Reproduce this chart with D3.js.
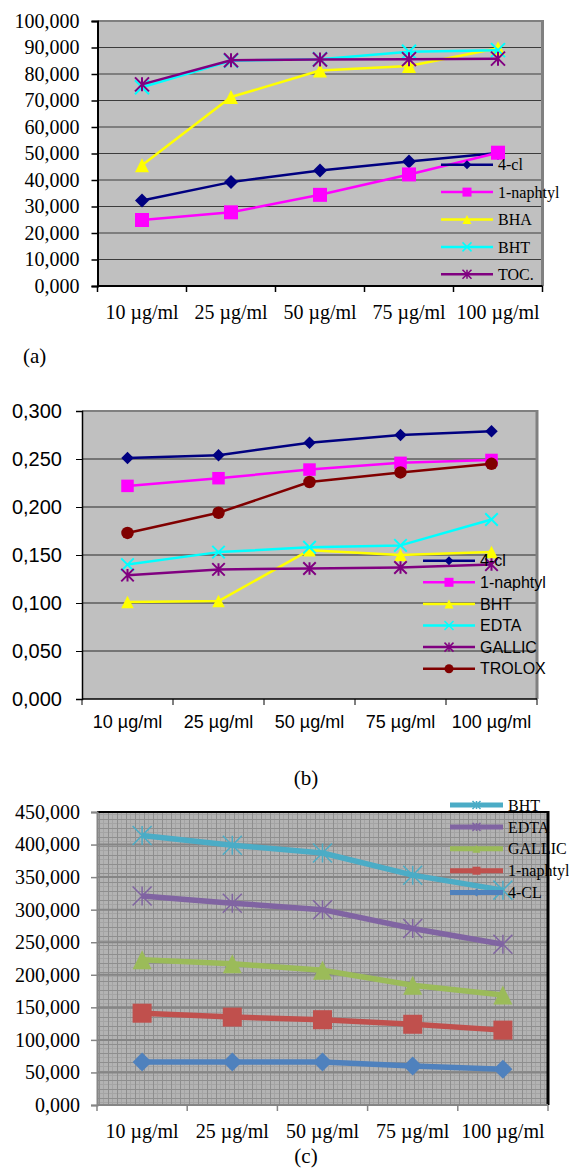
<!DOCTYPE html>
<meta charset="utf-8">
<head>
<title>Antioxidant activity</title>
<script src="https://cdn.jsdelivr.net/npm/d3@7"></script>
<style>
  body { margin: 0; background: #fff; }
</style>
</head>
<body>
<svg id="chart" width="569" height="1173"></svg>
<script>
// categories shared by the three panels
var categories = ["10 µg/ml", "25 µg/ml", "50 µg/ml", "75 µg/ml", "100 µg/ml"];

// panel (a)
var aTicks = [0, 10, 20, 30, 40, 50, 60, 70, 80, 90, 100];
var a4cl = [32.3, 39.2, 43.6, 47.0, 50.2];
var aNaphtyl = [24.9, 27.8, 34.4, 42.1, 50.3];
var aBHA = [45.6, 71.3, 81.3, 83.0, 89.7];
var aBHT = [75.0, 85.0, 85.6, 88.4, 89.0];
var aTOC = [76.1, 85.2, 85.5, 85.6, 85.8];

// panel (b)
var bTicks = [0, 0.05, 0.1, 0.15, 0.2, 0.25, 0.3];
var b4cl = [0.251, 0.254, 0.267, 0.275, 0.279];
var bNaphtyl = [0.222, 0.230, 0.239, 0.246, 0.249];
var bBHT = [0.101, 0.102, 0.155, 0.150, 0.153];
var bEDTA = [0.140, 0.153, 0.158, 0.160, 0.187];
var bGALLIC = [0.129, 0.135, 0.136, 0.137, 0.140];
var bTROLOX = [0.173, 0.194, 0.226, 0.236, 0.245];

// panel (c)
var cTicks = [0, 50, 100, 150, 200, 250, 300, 350, 400, 450];
var cBHT = [414, 399, 387, 353, 330];
var cEDTA = [321, 310, 300, 271, 247];
var cGALLIC = [223, 217, 207, 184, 169];
var cNaphtyl = [141, 135, 131, 124, 115];
var c4CL = [66, 66, 66, 60, 55];

var svg = d3.select("#chart");
var fmt = function (v) { return d3.format(".3f")(v).replace(".", ","); };

// texture of panel (c)
var defs = svg.append("defs");
var pat = defs.append("pattern")
  .attr("id", "grain")
  .attr("patternUnits", "userSpaceOnUse")
  .attr("width", 9).attr("height", 9);
pat.append("rect").attr("width", 9).attr("height", 9).attr("fill", "#b3b3b3");
pat.append("path").attr("d", "M0,4.5H9M4.5,0V9").attr("stroke", "#a4a4a4").attr("stroke-width", 1);
pat.append("path").attr("d", "M0,0.5H9M0.5,0V9").attr("stroke", "#8e8e8e").attr("stroke-width", 1);

function markerPath(type, s) {
  var r = s / 2;
  switch (type) {
    case "diamond": return "M0," + (-r) + "L" + r + ",0L0," + r + "L" + (-r) + ",0Z";
    case "square": return "M" + (-r) + "," + (-r) + "h" + s + "v" + s + "h" + (-s) + "Z";
    case "triangle": return "M0," + (-r) + "L" + r + "," + r + "L" + (-r) + "," + r + "Z";
    case "circle": return d3.symbol(d3.symbolCircle, Math.PI * r * r)();
    case "x": return "M" + (-r) + "," + (-r) + "L" + r + "," + r + "M" + (-r) + "," + r + "L" + r + "," + (-r);
    case "star": return "M" + (-r) + "," + (-r) + "L" + r + "," + r + "M" + (-r) + "," + r + "L" + r + "," + (-r) + "M0," + (-r) + "L0," + r;
  }
}
function isOpen(type) { return type == "x" || type == "star"; }

function drawMarker(sel, type, color, size, sw) {
  sel.attr("d", markerPath(type, size))
    .attr("fill", isOpen(type) ? "none" : color)
    .attr("stroke", isOpen(type) ? color : "none")
    .attr("stroke-width", sw);
}

function panel(cfg) {
  var g = svg.append("g");
  var x = d3.scaleBand().domain(categories).range([cfg.left, cfg.right]);
  var y = d3.scaleLinear().domain([0, d3.max(cfg.ticks)]).range([cfg.bottom, cfg.top]);
  var cx = function (c) { return x(c) + x.bandwidth() / 2; };

  // plot area
  g.append("rect")
    .attr("x", cfg.left).attr("y", cfg.top)
    .attr("width", cfg.right - cfg.left).attr("height", cfg.bottom - cfg.top)
    .attr("fill", cfg.bg);

  // gridlines
  g.selectAll("line.grid")
    .data(cfg.ticks.filter(function (t) { return t > 0 && t < d3.max(cfg.ticks); }))
    .enter().append("line")
    .attr("class", "grid")
    .attr("x1", cfg.left).attr("x2", cfg.right)
    .attr("y1", function (d) { return y(d); }).attr("y2", function (d) { return y(d); })
    .attr("stroke", cfg.grid).attr("stroke-width", cfg.gridW);

  // top / right frame
  g.append("line").attr("x1", cfg.left).attr("x2", cfg.right)
    .attr("y1", cfg.top).attr("y2", cfg.top)
    .attr("stroke", cfg.frame).attr("stroke-width", cfg.frameW);
  g.append("line").attr("x1", cfg.right).attr("x2", cfg.right)
    .attr("y1", cfg.top - cfg.frameW / 2).attr("y2", cfg.bottom)
    .attr("stroke", cfg.frame).attr("stroke-width", cfg.frameW + 1);

  // y axis
  var ya = g.append("g")
    .attr("transform", "translate(" + cfg.left + ",0)")
    .call(d3.axisLeft(y).tickValues(cfg.ticks).tickFormat(fmt).tickSize(6).tickPadding(cfg.yPad));
  ya.select(".domain").attr("stroke", cfg.axis).attr("stroke-width", cfg.axisW);
  ya.selectAll(".tick line").attr("stroke", cfg.axis).attr("stroke-width", cfg.axisW - 0.5);
  ya.selectAll(".tick text")
    .attr("font-family", cfg.font).attr("font-size", cfg.yFont).attr("fill", "#000");

  // x axis with ticks on category boundaries
  g.append("line").attr("x1", cfg.left).attr("x2", cfg.right)
    .attr("y1", cfg.bottom).attr("y2", cfg.bottom)
    .attr("stroke", cfg.axis).attr("stroke-width", cfg.axisW);
  var bounds = categories.map(function (c) { return x(c); }).concat([x.range()[1]]);
  g.selectAll("line.xtick").data(bounds).enter().append("line")
    .attr("class", "xtick")
    .attr("x1", function (d) { return d; }).attr("x2", function (d) { return d; })
    .attr("y1", cfg.bottom).attr("y2", cfg.bottom + 6)
    .attr("stroke", cfg.axis).attr("stroke-width", cfg.axisW - 0.5);
  g.selectAll("text.xlab").data(categories).enter().append("text")
    .attr("class", "xlab")
    .attr("x", cx).attr("y", cfg.xBase)
    .attr("text-anchor", "middle")
    .attr("font-family", cfg.font).attr("font-size", cfg.xFont)
    .text(function (d) { return d; });

  // series
  var line = d3.line()
    .x(function (d, i) { return cx(categories[i]); })
    .y(function (d) { return y(d); });
  cfg.series.forEach(function (s) {
    g.append("path").datum(s.values)
      .attr("d", line).attr("fill", "none")
      .attr("stroke", s.color).attr("stroke-width", cfg.lineW)
      .attr("stroke-linejoin", "round");
    g.selectAll(null).data(s.values).enter().append("path")
      .attr("transform", function (d, i) { return "translate(" + cx(categories[i]) + "," + y(d) + ")"; })
      .call(drawMarker, s.marker, s.color, cfg.mSize, cfg.mStroke);
  });

  // legend
  var lg = g.append("g");
  cfg.legendOrder.forEach(function (k, i) {
    var s = cfg.series[k];
    var ly = cfg.legY + i * cfg.legStep;
    lg.append("line").attr("x1", cfg.legX1).attr("x2", cfg.legX2)
      .attr("y1", ly).attr("y2", ly)
      .attr("stroke", s.color).attr("stroke-width", cfg.legLineW);
    lg.append("path")
      .attr("transform", "translate(" + (cfg.legX1 + cfg.legX2) / 2 + "," + ly + ")")
      .call(drawMarker, s.marker, s.color, cfg.legMSize, 1.5);
    lg.append("text").attr("x", cfg.legX2 + 5).attr("y", ly).attr("dy", "0.35em")
      .attr("font-family", cfg.font).attr("font-size", cfg.legFont)
      .text(s.name);
  });

  // panel caption
  g.append("text")
    .attr("x", cfg.capX).attr("y", cfg.capY)
    .attr("text-anchor", cfg.capAnchor)
    .attr("font-family", "'Liberation Serif', 'Times New Roman', serif")
    .attr("font-size", 21)
    .text(cfg.caption);
}

var serif = "'Liberation Serif', 'Times New Roman', serif";
var sans = "'Liberation Sans', Arial, sans-serif";

panel({
  left: 97.5, right: 542.5, top: 21, bottom: 286,
  ticks: aTicks, bg: "#c0c0c0", grid: "#3c3c3c", gridW: 1,
  frame: "#808080", frameW: 2, axis: "#000", axisW: 2,
  font: serif, yFont: 20, yPad: 12, xFont: 20, xBase: 319,
  lineW: 2.5, mSize: 14, mStroke: 2,
  series: [
    { name: "4-cl", values: a4cl, color: "#000080", marker: "diamond" },
    { name: "1-naphtyl", values: aNaphtyl, color: "#ff00ff", marker: "square" },
    { name: "BHA", values: aBHA, color: "#ffff00", marker: "triangle" },
    { name: "BHT", values: aBHT, color: "#00ffff", marker: "x" },
    { name: "TOC.", values: aTOC, color: "#800080", marker: "star" }
  ],
  legendOrder: [0, 1, 2, 3, 4],
  legY: 164.7, legStep: 27.4, legX1: 441, legX2: 493, legLineW: 2.5, legMSize: 9, legFont: 16,
  caption: "(a)", capX: 23, capY: 363, capAnchor: "start"
});

panel({
  left: 82, right: 537, top: 411, bottom: 699,
  ticks: bTicks, bg: "#c0c0c0", grid: "#2a2a2a", gridW: 1,
  frame: "#808080", frameW: 2, axis: "#000", axisW: 1.5,
  font: sans, yFont: 20, yPad: 14, xFont: 18, xBase: 728,
  lineW: 2.5, mSize: 12.5, mStroke: 2,
  series: [
    { name: "4-cl", values: b4cl, color: "#000080", marker: "diamond" },
    { name: "1-naphtyl", values: bNaphtyl, color: "#ff00ff", marker: "square" },
    { name: "BHT", values: bBHT, color: "#ffff00", marker: "triangle" },
    { name: "EDTA", values: bEDTA, color: "#00ffff", marker: "x" },
    { name: "GALLIC", values: bGALLIC, color: "#800080", marker: "star" },
    { name: "TROLOX", values: bTROLOX, color: "#800000", marker: "circle" }
  ],
  legendOrder: [0, 1, 2, 3, 4, 5],
  legY: 560.7, legStep: 21.6, legX1: 423, legX2: 475, legLineW: 2.5, legMSize: 9, legFont: 16,
  caption: "(b)", capX: 306, capY: 785, capAnchor: "middle"
});

panel({
  left: 97, right: 548, top: 812, bottom: 1105,
  ticks: cTicks, bg: "url(#grain)", grid: "#858585", gridW: 2,
  frame: "#000", frameW: 2, axis: "#868686", axisW: 2,
  font: serif, yFont: 20, yPad: 11, xFont: 20, xBase: 1138,
  lineW: 5.5, mSize: 19, mStroke: 1.5,
  series: [
    { name: "4-CL", values: c4CL, color: "#4f81bd", marker: "diamond" },
    { name: "1-naphtyl", values: cNaphtyl, color: "#c0504d", marker: "square" },
    { name: "GALLIC", values: cGALLIC, color: "#9bbb59", marker: "triangle" },
    { name: "EDTA", values: cEDTA, color: "#8064a2", marker: "star" },
    { name: "BHT", values: cBHT, color: "#4bacc6", marker: "star" }
  ],
  legendOrder: [4, 3, 2, 1, 0],
  legY: 805, legStep: 21.9, legX1: 450, legX2: 503, legLineW: 5, legMSize: 8, legFont: 16,
  caption: "(c)", capX: 306, capY: 1163, capAnchor: "middle"
});
</script>
</body>
